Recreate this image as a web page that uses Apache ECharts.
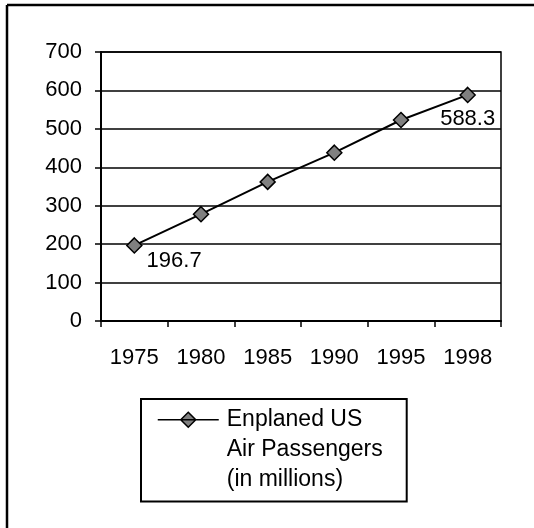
<!DOCTYPE html>
<html>
<head>
<meta charset="utf-8">
<script src="https://cdn.jsdelivr.net/npm/echarts@6/dist/echarts.min.js"></script>
<style>
html,body{margin:0;padding:0;background:#fff;}
#chart{width:534px;height:528px;}
</style>
</head>
<body>
<div id="chart"></div>
<script>
// Data
var years = ['1975', '1980', '1985', '1990', '1995', '1998'];
var passengers = [196.7, 278, 362, 438, 523, 588.3];
var yTicks = [0, 100, 200, 300, 400, 500, 600, 700];
var seriesName = 'Enplaned US\nAir Passengers\n(in millions)';

var FONT = 'Arial, "Liberation Sans", Helvetica, sans-serif';

var chart = echarts.init(document.getElementById('chart'), null, {renderer: 'canvas'});

var lastIdx = passengers.length - 1;
var seriesData = passengers.map(function (v, i) {
  if (i === 0) {
    return {value: v, label: {show: true, position: 'right', distance: 4, offset: [0, 16]}};
  }
  if (i === lastIdx) {
    return {value: v, label: {show: true, position: 'bottom', distance: 5}};
  }
  return v;
});

// legend icon: line + diamond aligned with first text line (path bounds 0..61 x 0..90)
var legendIcon = 'path://M0 0 M61 90 M0 15 L61 15 M30.5 7.5 L38 15 L30.5 22.5 L23 15 Z';

var option = {
  animation: false,
  backgroundColor: '#fff',
  textStyle: {fontFamily: FONT},
  grid: {
    left: 101, right: 33, top: 52, bottom: 207,
    show: true, borderColor: '#000', borderWidth: 1.5, backgroundColor: 'transparent'
  },
  xAxis: {
    type: 'category',
    data: years,
    boundaryGap: true,
    axisLine: {show: true, lineStyle: {color: '#000', width: 2}},
    axisTick: {show: true, alignWithLabel: false, length: 6, inside: false, lineStyle: {color: '#000', width: 1.5}},
    axisLabel: {color: '#000', fontSize: 22, fontFamily: FONT, margin: 26, interval: 0},
    splitLine: {show: false}
  },
  yAxis: {
    type: 'value',
    min: yTicks[0],
    max: yTicks[yTicks.length - 1],
    interval: yTicks[1] - yTicks[0],
    axisLine: {show: true, lineStyle: {color: '#000', width: 2}},
    axisTick: {show: true, length: 6, inside: false, lineStyle: {color: '#000', width: 1.5}},
    axisLabel: {color: '#000', fontSize: 22, fontFamily: FONT, margin: 19},
    splitLine: {show: true, lineStyle: {color: '#000', width: 1.5}}
  },
  legend: {
    show: true,
    left: 141,
    top: 399,
    orient: 'vertical',
    data: [{name: seriesName, icon: legendIcon}],
    itemWidth: 61,
    itemHeight: 90,
    itemGap: 0,
    symbolKeepAspect: false,
    padding: [5, 24, 6, 16],
    borderColor: '#000',
    borderWidth: 2,
    borderRadius: 0,
    backgroundColor: '#fff',
    itemStyle: {color: '#808080', borderColor: '#000', borderWidth: 1.5},
    textStyle: {color: '#000', fontSize: 23, fontFamily: FONT, lineHeight: 30, padding: [0, 0, 0, 3]},
    selectedMode: false
  },
  series: [{
    name: seriesName,
    type: 'line',
    data: seriesData,
    symbol: 'diamond',
    symbolSize: 15,
    showAllSymbol: true,
    lineStyle: {color: '#000', width: 2},
    itemStyle: {color: '#808080', borderColor: '#000', borderWidth: 1.5},
    label: {show: false, color: '#000', fontSize: 22, fontFamily: FONT},
    emphasis: {disabled: true}
  }],
  graphic: [
    {type: 'line', shape: {x1: 7, y1: 5, x2: 534, y2: 5}, style: {stroke: '#000', lineWidth: 2.5}, silent: true},
    {type: 'line', shape: {x1: 7, y1: 5, x2: 7, y2: 528}, style: {stroke: '#000', lineWidth: 2.5}, silent: true}
  ]
};

chart.setOption(option);
</script>
</body>
</html>
